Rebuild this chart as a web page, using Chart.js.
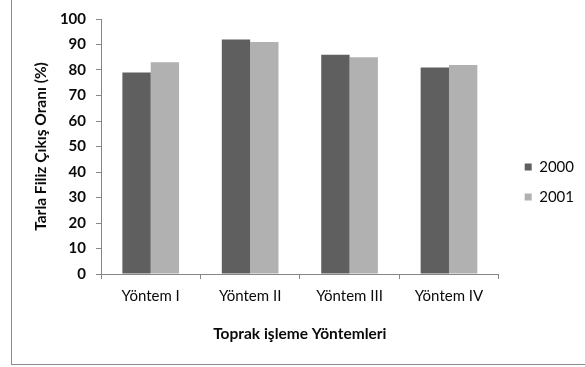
<!DOCTYPE html>
<html>
<head>
<meta charset="utf-8">
<title>Tarla Filiz Çıkış Oranı</title>
<script src="https://cdn.jsdelivr.net/npm/chart.js@4/dist/chart.umd.min.js"></script>
<style>
  html, body { margin: 0; padding: 0; background: #fff; }
  #wrap { position: relative; width: 585px; height: 367px; overflow: hidden; }
  /* cerceve: sol ve alt cizgi */
  #frame { position: absolute; left: 11px; top: -1px; width: 600px; height: 365px;
           border-left: 1px solid #8c8c8c; border-bottom: 1px solid #8c8c8c; pointer-events: none; }
  canvas { position: absolute; left: 0; top: 0; }
</style>
</head>
<body>
<div id="wrap">
  <canvas id="grafik" width="585" height="367"></canvas>
  <div id="frame"></div>
</div>
<script>
// veriler
var yontemler = ['Yöntem I', 'Yöntem II', 'Yöntem III', 'Yöntem IV'];
var yil2000 = [79, 92, 86, 81];
var yil2001 = [83, 91, 85, 82];
var yEtiketleri = [0, 10, 20, 30, 40, 50, 60, 70, 80, 90, 100];

var yaziTipi = 'Lato, "DejaVu Sans", sans-serif';
var eksenRengi = '#868686';

var ctx = document.getElementById('grafik').getContext('2d');
var chart = new Chart(ctx, {
    type: 'bar',
    data: {
        labels: yontemler,
        datasets: [{
            label: '2000',
            data: yil2000,
            backgroundColor: '#5f5f5f',
            borderWidth: 0
        }, {
            label: '2001',
            data: yil2001,
            backgroundColor: '#b1b1b1',
            borderWidth: 0
        }]
    },
    options: {
        responsive: false,
        animation: false,
        layout: { padding: { left: 12, right: 1, top: 0, bottom: 3 } },
        datasets: { bar: { categoryPercentage: 0.57, barPercentage: 1.0 } },
        plugins: {
            tooltip: { enabled: false },
            legend: {
                position: 'right',
                align: 'center',
                labels: {
                    boxWidth: 7,
                    boxHeight: 7,
                    padding: 15,
                    color: '#0a0a0a',
                    font: { family: yaziTipi, size: 15 }
                }
            }
        },
        scales: {
            x: {
                grid: { display: true, drawOnChartArea: false, drawTicks: true, tickLength: 5, color: eksenRengi, offset: true },
                border: { display: true, color: eksenRengi },
                ticks: { color: '#0a0a0a', padding: 8, font: { family: yaziTipi, size: 15 } },
                title: {
                    display: true,
                    text: 'Toprak işleme Yöntemleri',
                    color: '#0a0a0a',
                    padding: { top: 0, bottom: 21 },
                    font: { family: yaziTipi, size: 15.5, weight: 'bold' }
                },
                afterFit: function (s) { s.height = 90; }
            },
            y: {
                min: 0,
                max: 100,
                afterBuildTicks: function (s) { s.ticks = yEtiketleri.map(function (v) { return { value: v }; }); },
                grid: { display: true, drawOnChartArea: false, drawTicks: true, tickLength: 5, color: eksenRengi },
                border: { display: true, color: eksenRengi },
                ticks: { color: '#0a0a0a', padding: 10, font: { family: yaziTipi, size: 15, weight: 'bold' } },
                title: {
                    display: true,
                    text: 'Tarla Filiz Çıkış Oranı (%)',
                    color: '#0a0a0a',
                    padding: { top: 20, bottom: 0 },
                    font: { family: yaziTipi, size: 15.5, weight: 'bold' }
                },
                afterFit: function (s) { s.width = 89; }
            },
            // bos eksenler: ust bosluk ve lejant ile cizim alani arasi
            ustBosluk: {
                type: 'linear', axis: 'x', position: 'top',
                grid: { display: false }, border: { display: false }, ticks: { display: false },
                afterFit: function (s) { s.height = 17; }
            },
            sagBosluk: {
                type: 'linear', axis: 'y', position: 'right',
                grid: { display: false }, border: { display: false }, ticks: { display: false },
                afterFit: function (s) { s.width = 11; }
            }
        }
    }
});
</script>
</body>
</html>
